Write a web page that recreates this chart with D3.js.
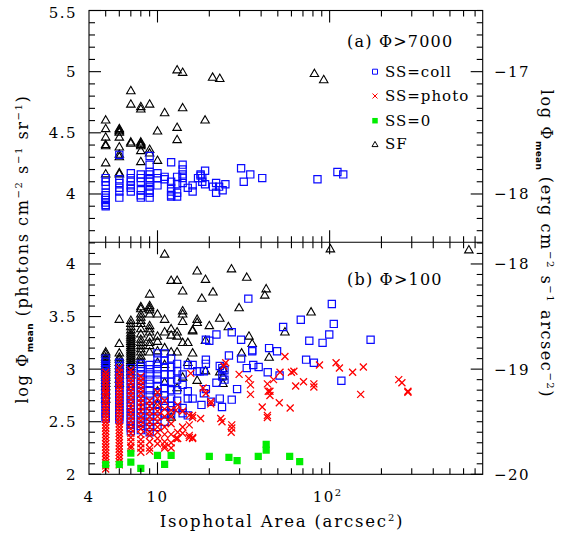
<!DOCTYPE html>
<html>
<head>
<meta charset="utf-8">
<script src="https://cdn.jsdelivr.net/npm/d3@7"></script>
<style>
  html, body { margin: 0; padding: 0; background: #fff; }
  svg { display: block; }
  text { font-family: "DejaVu Serif", serif; fill: #000; }
</style>
</head>
<body>
<script>
// panel (a): Phi > 7000   [isophotal area, log Phi_mean]
const topColl = [
  [5,4.13],[5,4.10],[5,4.07],[5,4.01],[5,3.99],[5,3.97],[5,3.95],[5,3.93],[5,3.91],[5,3.90],
  [6,4.32],[6,4.12],[6,4.09],[6,4.05],[6,4.02],[6,3.97],
  [7,4.17],[7,4.13],[7,4.10],[7,4.07],[7,4.05],[7,4.02],
  [8,4.16],[8,4.13],[8,4.10],[8,4.03],[8,3.99],[8,3.97],
  [9,4.31],[9,4.24],[9,4.18],[9,4.16],[9,4.13],[9,4.10],[9,4.06],[9,4.03],[9,4.01],[9,3.97],
  [10,4.17],[10,4.13],[10,4.07],[11,4.14],[11,4.12],
  [12,4.26],[12,4.10],[12,4.05],[12,4.02],[12,3.99],[12,3.98],
  [13,4.14],[13,4.08],[13,4.01],[13,3.98],
  [14,4.24],[14,4.20],[14,4.16],[14,4.13],[14,4.09],
  [15,4.05],[16,4.07],[16,4.02],[17.2,4.13],
  [17.8,4.16],[17.8,4.15],[18.2,4.13],[18.2,4.10],
  [18.9,4.19],[18.9,4.08],[21,4.06],[21.9,4.09],[21.9,4.01],[22.8,4.06],[23.9,4.03],[24.8,4.08],
  [30.6,4.21],[31.7,4.10],[34.6,4.16],[40.6,4.13],[85,4.12],[111,4.18],[120,4.16]
];
const topSF = [
  [13,5.02],[14,5.0],[20.9,4.96],[23,4.95],[81.6,4.99],[92.4,4.94],
  [7,4.85],[7,4.74],[8,4.72],[8,4.70],[9,4.74],[11,4.67],[14,4.71],[18.9,4.61],
  [13,4.55],[10,4.52],[13,4.45],[10,4.28],
  [5,4.61],[5,4.54],[5,4.47],[5,4.41],[5,4.40],[5,4.26],[5,4.17],
  [6,4.54],[6,4.53],[6,4.52],[6,4.51],[6,4.47],[6,4.39],[6,4.33],[6,4.31],[6,4.18],[6,4.17],
  [7,4.43],[7,4.42],
  [8,4.43],[8,4.42],[8,4.41],[8,4.40],[8,4.36],[8,4.27],
  [9,4.37],[9,4.34]
];

// panel (b): Phi > 100, by area column  [area, [log Phi_mean ...]]
const botSF = [
  [5,[3.17,3.15,3.12,3.10,3.08,3.06,3.04,3.02,3.00,2.98,2.95,2.93,2.90,2.87,2.84,2.80,2.76,2.72]],
  [6,[3.48,3.25,3.16,3.12,3.10,3.07,3.04,3.01,2.98,2.95,2.91,2.87]],
  [7,[3.47,3.44,3.41,3.38,3.35,3.33,3.31,3.29,3.27,3.25,3.23,3.21,3.19,3.17,3.15,3.13,3.11,3.09,3.07,3.05,3.03,3.01,2.98,2.95]],
  [8,[3.60,3.58,3.53,3.50,3.47,3.44,3.39,3.34,3.29,3.26,3.23,3.20,3.17,3.13,3.10,3.07]],
  [9,[3.72,3.61,3.59,3.57,3.53,3.42,3.39,3.36,3.31,3.26,3.23,3.17]],
  [10,[3.53,3.32,3.27,3.18,3.07,2.80,2.67]],
  [11,[4.10,3.48,3.36,3.21,3.05,2.88]],
  [12,[3.85,3.39,3.33,3.17,2.55]],
  [13,[3.85,3.36,3.32,3.17,2.83]],
  [14,[3.75,3.56,3.53,3.46,3.26,2.93]],
  [15,[3.26,3.07]],[16,[3.38,3.37,3.16]],[17,[3.94,3.48,3.45,2.90]],[18.1,[3.68]],
  [19,[3.86,3.28,2.99]],[20,[3.42]],[21,[3.74]],[23,[3.49,2.98]],[24,[3.01,2.94,2.87]],
  [25.8,[3.41]],[26.9,[3.96]],[29.8,[3.59]],[30.8,[3.16]],[33,[3.88]],[34,[3.32]],
  [35.5,[3.25]],[42,[3.71]],[42.8,[3.77]],[44.5,[3.12]],[55,[3.36]],[78,[3.55]],
  [101,[4.15]],[644,[4.14]]
];
const botColl = [
  [5,[3.10,3.07,3.04,3.02,2.99,2.96,2.93,2.91,2.88,2.85,2.82,2.79,2.76,2.73,2.70,2.67,2.64,2.61,2.58,2.55,2.53]],
  [6,[3.06,3.03,3.00,2.97,2.94,2.91,2.88,2.85,2.82,2.79,2.76,2.73,2.70,2.67,2.64,2.61,2.58,2.55,2.52]],
  [7,[3.01,2.98,2.95,2.92,2.89,2.86,2.83,2.80,2.77,2.74,2.71,2.68,2.65,2.62,2.59,2.56,2.53,2.50,2.47,2.44,2.41]],
  [8,[3.05,3.02,2.98,2.94,2.90,2.86,2.82,2.78,2.74,2.70,2.66,2.62,2.58,2.54,2.50,2.46,2.42]],
  [9,[3.04,3.00,2.95,2.90,2.86,2.80,2.75,2.70,2.65,2.60,2.55,2.50,2.45,2.40]],
  [10,[3.15,3.10,3.05,3.00,2.95,2.90,2.84,2.78,2.72,2.66,2.60,2.55,2.45]],
  [11,[3.15,3.08,3.02,2.95,2.88,2.82,2.75,2.70,2.65,2.58,2.50]],
  [12,[3.10,3.02,2.95,2.88,2.80,2.72,2.65,2.61,2.57]],
  [13,[3.05,2.98,2.90,2.80,2.70,2.63]],
  [14,[2.95,2.85,2.63,2.58]],[15,[3.04,2.79,2.72,2.56]],[16,[3.04,2.72]],
  [17,[2.98]],[17.6,[2.98]],[18,[2.66]],[18.6,[2.98,2.77]],[19.1,[3.28,3.09,3.05,2.81]],
  [20,[3.27]],[20.5,[2.69]],[22,[3.33,2.87]],[23,[3.03,2.72]],[23.7,[2.64]],
  [23.8,[3.01,2.93]],[24.5,[2.99,2.90]],[26,[3.13]],[27,[3.35,2.71]],[29,[2.81]],
  [30.6,[3.28,3.10]],[33,[3.01]],[33.7,[3.67]],[35.5,[3.18,3.17]],[36,[3.04]],
  [38.7,[3.02]],[43.7,[2.97]],[44.5,[3.20]],[49.5,[3.17]],[51.2,[2.94]],[53.7,[3.40]],
  [68,[3.47]],[73,[3.09]],[76.2,[3.27]],[81,[3.06]],[91,[3.25]],[99.5,[3.33]],
  [103,[3.62]],[105.7,[3.43]],[117,[2.89]],[173,[3.28]]
];
const botPhoto = [
  [5,[2.97,2.94,2.91,2.88,2.85,2.82,2.79,2.77,2.74,2.71,2.68,2.65,2.62,2.59,2.56,2.53,2.50,2.47,2.44,2.41,2.38,2.35,2.32,2.29,2.26,2.23,2.20,2.17,2.14,2.11,2.08,2.05]],
  [6,[3.01,2.97,2.93,2.90,2.87,2.84,2.81,2.78,2.75,2.72,2.69,2.66,2.63,2.60,2.57,2.54,2.51,2.48,2.45,2.42,2.39,2.36,2.33,2.30,2.27,2.24,2.21,2.18,2.15,2.12,2.09]],
  [7,[2.99,2.95,2.91,2.87,2.83,2.79,2.75,2.71,2.67,2.63,2.59,2.55,2.51,2.47,2.43,2.39,2.35,2.31,2.27,2.25]],
  [8,[2.93,2.89,2.85,2.81,2.77,2.72,2.68,2.64,2.60,2.55,2.51,2.47,2.43,2.38,2.33,2.29,2.25,2.21]],
  [9,[2.70,2.65,2.60,2.55,2.50,2.45,2.40,2.37,2.31,2.25,2.22]],
  [10,[2.78,2.72,2.66,2.60,2.55,2.50,2.45,2.40,2.34,2.29]],
  [11,[2.70,2.62,2.55,2.45,2.38,2.31,2.27,2.25]],
  [12,[2.61,2.55,2.48,2.38,2.30,2.25]],
  [12.8,[2.61,2.34]],[13.1,[2.66,2.40,2.34]],[14,[2.60,2.45,2.39]],[15.3,[2.56,2.47,2.37,2.35]],
  [15.6,[2.96]],[16,[2.56,2.54,2.35,2.34]],[17.8,[2.53]],[18.4,[2.82]],[19.1,[2.77]],
  [20.4,[2.69,2.67]],[23.3,[2.53]],[23.7,[2.50]],[24.3,[3.03]],[24.9,[3.06]],[26.8,[2.40]],
  [27,[2.47,2.44]],[29.8,[2.95]],[33.9,[2.91]],[34.7,[2.85,2.76]],[40.6,[2.64]],
  [43.5,[2.86,2.56,2.54]],[44,[2.79]],[45,[2.79,2.75]],[47.2,[2.90]],[51,[2.68]],
  [51.5,[2.97]],[55,[3.12]],[59,[2.63]],[60,[2.97]],[62,[2.98]],[63.5,[2.84]],
  [70.5,[2.88]],[81,[2.86,2.83]],[87.3,[3.04]],[109,[3.06]],[114,[3.01]],[136,[2.97]],
  [151.5,[2.76]],[157,[3.02]],[252,[2.90]],[263,[2.87]],[285,[2.79,2.78]]
];
const botZero = [
  [5,2.095],[6,2.095],[7,2.20],[7,2.115],[8,2.057],[10,2.18],[11,2.095],[12,2.18],
  [20,2.17],[26,2.16],[29,2.13],[38.5,2.17],[42.8,2.285],[42.8,2.23],[58.6,2.17],[67,2.12]
];

const xMinor = [5,6,7,8,9,20,30,40,50,60,70,80,90,200,300,400,500,600,700];
const xMajor = [10,100];
const topLeftLabels = [5.5,5,4.5,4];
const botLeftLabels = [4,3.5,3,2.5,2];
const topRightLabels = [-17,-18];
const botRightLabels = [-18,-19,-20];
const legendItems = ["SS=coll","SS=photo","SS=0","SF"];

const W = 569, H = 538;
const L = 89, R = 482.7, T = 10.5, MID = 242.3, B = 474.3;
const OFFSET = -22;   // erg scale = photon scale - 22

const x = d3.scaleLog().domain([4, 775]).range([L, R]);
const yA = d3.scaleLinear().domain([3.605, 5.5]).range([MID, T]);
const yB = d3.scaleLinear().domain([2, 4.206]).range([B, MID]);

const svg = d3.select("body").append("svg").attr("width", W).attr("height", H);

const flat = cols => cols.flatMap(([a, vs]) => vs.map(v => [a, v]));

const sq = s => `M${-s/2},${-s/2}h${s}v${s}h${-s}Z`;
const cross = s => `M${-s/2},${-s/2}L${s/2},${s/2}M${-s/2},${s/2}L${s/2},${-s/2}`;
const tri = s => { const h = s * 0.866; return `M0,${-h/2}L${s/2},${h/2}L${-s/2},${h/2}Z`; };

const styles = {
  SF:    {d: tri(8.5), fill: "none", stroke: "#000", sw: 1.1},
  coll:  {d: sq(7.2), fill: "none", stroke: "#0a0aff", sw: 1.2},
  photo: {d: cross(7), fill: "none", stroke: "#ff0000", sw: 1.3},
  zero:  {d: sq(7.2), fill: "#00ee00", stroke: "none", sw: 0}
};

function plot(g, data, ys, st) {
  g.append("g").selectAll("path").data(data).enter().append("path")
    .attr("transform", d => `translate(${x(d[0])},${ys(d[1])})`)
    .attr("d", st.d)
    .attr("fill", st.fill)
    .attr("stroke", st.stroke)
    .attr("stroke-width", st.sw);
}

svg.append("clipPath").attr("id", "ca").append("rect")
  .attr("x", L).attr("y", T).attr("width", R - L).attr("height", MID - T);
svg.append("clipPath").attr("id", "cb").append("rect")
  .attr("x", L).attr("y", MID - 4).attr("width", R - L).attr("height", B - MID + 4);

const gA = svg.append("g").attr("clip-path", "url(#ca)");
plot(gA, topSF, yA, styles.SF);
plot(gA, topColl, yA, styles.coll);

const gB = svg.append("g").attr("clip-path", "url(#cb)");
plot(gB, flat(botSF), yB, styles.SF);
plot(gB, flat(botColl), yB, styles.coll);
plot(gB, flat(botPhoto), yB, styles.photo);
plot(gB, botZero, yB, styles.zero);

// frame
const ax = svg.append("g").attr("stroke", "#000").attr("stroke-width", 1.1).attr("fill", "none");
ax.append("rect").attr("x", L).attr("y", T).attr("width", R - L).attr("height", B - T);
ax.append("line").attr("x1", L).attr("x2", R).attr("y1", MID).attr("y2", MID);

function tick(x1, y1, x2, y2) {
  ax.append("line").attr("x1", x1).attr("y1", y1).attr("x2", x2).attr("y2", y2);
}

// x ticks on all four horizontal edges
const xEdges = [[T, 1], [MID, -1], [MID, 1], [B, -1]];
xEdges.forEach(([yy, dir]) => {
  xMinor.forEach(v => tick(x(v), yy, x(v), yy + dir * 6));
  xMajor.forEach(v => tick(x(v), yy, x(v), yy + dir * 12));
});

// y ticks: left major every 0.5, right major every integer of the erg scale
function yTicks(ys, lo, hi) {
  for (let k = Math.ceil(lo * 10); k <= Math.floor(hi * 10); k++) {
    const v = k / 10, py = ys(v);
    const majL = k % 5 === 0, majR = k % 10 === 0;
    tick(L, py, L + (majL ? 12 : 6), py);
    tick(R, py, R - (majR ? 12 : 6), py);
  }
}
yTicks(yA, 3.61, 5.5);
yTicks(yB, 2.0, 4.2);

// tick labels
const lab = svg.append("g").attr("font-size", 15).attr("letter-spacing", 1.5);
topLeftLabels.forEach(v => lab.append("text").attr("x", 77).attr("y", yA(v) + (v === 5.5 ? 2 : 0))
  .attr("dy", "0.36em").attr("text-anchor", "end").text(v));
botLeftLabels.forEach(v => lab.append("text").attr("x", 77).attr("y", yB(v)).attr("dy", "0.36em")
  .attr("text-anchor", "end").text(v));
topRightLabels.forEach(v => lab.append("text").attr("x", 494).attr("y", yA(v - OFFSET)).attr("dy", "0.36em")
  .text("\u2212" + Math.abs(v)));
botRightLabels.forEach(v => lab.append("text").attr("x", 494).attr("y", yB(v - OFFSET)).attr("dy", "0.36em")
  .text("\u2212" + Math.abs(v)));

lab.append("text").attr("x", x(4)).attr("y", 502).attr("text-anchor", "middle").text("4");
lab.append("text").attr("x", x(10)).attr("y", 502).attr("text-anchor", "middle").text("10");
const t100 = lab.append("text").attr("x", x(100) - 2).attr("y", 502).attr("text-anchor", "middle");
t100.append("tspan").text("10");
t100.append("tspan").attr("font-size", 10).attr("dy", -6).text("2");

// axis titles
const xt = svg.append("text").attr("x", 282).attr("y", 527).attr("text-anchor", "middle")
  .attr("font-size", 16.5).attr("letter-spacing", 1.8);
xt.append("tspan").text("Isophotal Area (arcsec");
xt.append("tspan").attr("font-size", 10).attr("dy", -6).text("2");
xt.append("tspan").attr("dy", 6).text(")");

function yTitle(g, unitParts) {
  const t = g.append("text").attr("text-anchor", "middle").attr("font-size", 16).attr("letter-spacing", 1.6);
  t.append("tspan").text("log \u03A6");
  t.append("tspan").attr("font-size", 9).attr("font-family", "DejaVu Sans").attr("font-weight", "bold")
    .attr("letter-spacing", 0.3).attr("dy", 5).text("mean");
  let shift = 5;
  unitParts.forEach(([s, sup]) => {
    t.append("tspan").attr("dy", -shift).text(s);
    shift = 0;
    if (sup) {
      t.append("tspan").attr("font-size", 10).attr("dy", -6).text(sup);
      shift = -6;
    }
  });
  return t;
}
const yl = svg.append("g").attr("transform", "translate(28,249) rotate(-90)");
yTitle(yl, [[" (photons cm", "\u22122"], [" s", "\u22121"], [" sr", "\u22121"], [")", null]]);
const yr = svg.append("g").attr("transform", "translate(541,244) rotate(90)");
yTitle(yr, [[" (erg cm", "\u22122"], [" s", "\u22121"], [" arcsec", "\u22122"], [")", null]]);

// panel annotations
const ann = svg.append("g").attr("font-size", 16).attr("letter-spacing", 1.2);
ann.append("text").attr("x", 347).attr("y", 47).text("(a)  \u03A6>7000");
ann.append("text").attr("x", 347).attr("y", 285).text("(b)  \u03A6>100");

// legend
const legY = [71.7, 96, 120.7, 144];
const legSt = [
  {d: sq(5), fill: "none", stroke: "#0a0aff", sw: 1},
  {d: cross(5), fill: "none", stroke: "#ff0000", sw: 1},
  {d: sq(5.5), fill: "#00ee00", stroke: "none", sw: 0},
  {d: tri(6), fill: "none", stroke: "#000", sw: 1}
];
const leg = svg.append("g");
legendItems.forEach((name, i) => {
  const st = legSt[i];
  leg.append("path").attr("transform", `translate(375,${legY[i]})`).attr("d", st.d)
    .attr("fill", st.fill).attr("stroke", st.stroke).attr("stroke-width", st.sw);
  leg.append("text").attr("x", 385).attr("y", legY[i]).attr("dy", "0.36em")
    .attr("font-size", 15).attr("letter-spacing", 1).text(name);
});
</script>
</body>
</html>
